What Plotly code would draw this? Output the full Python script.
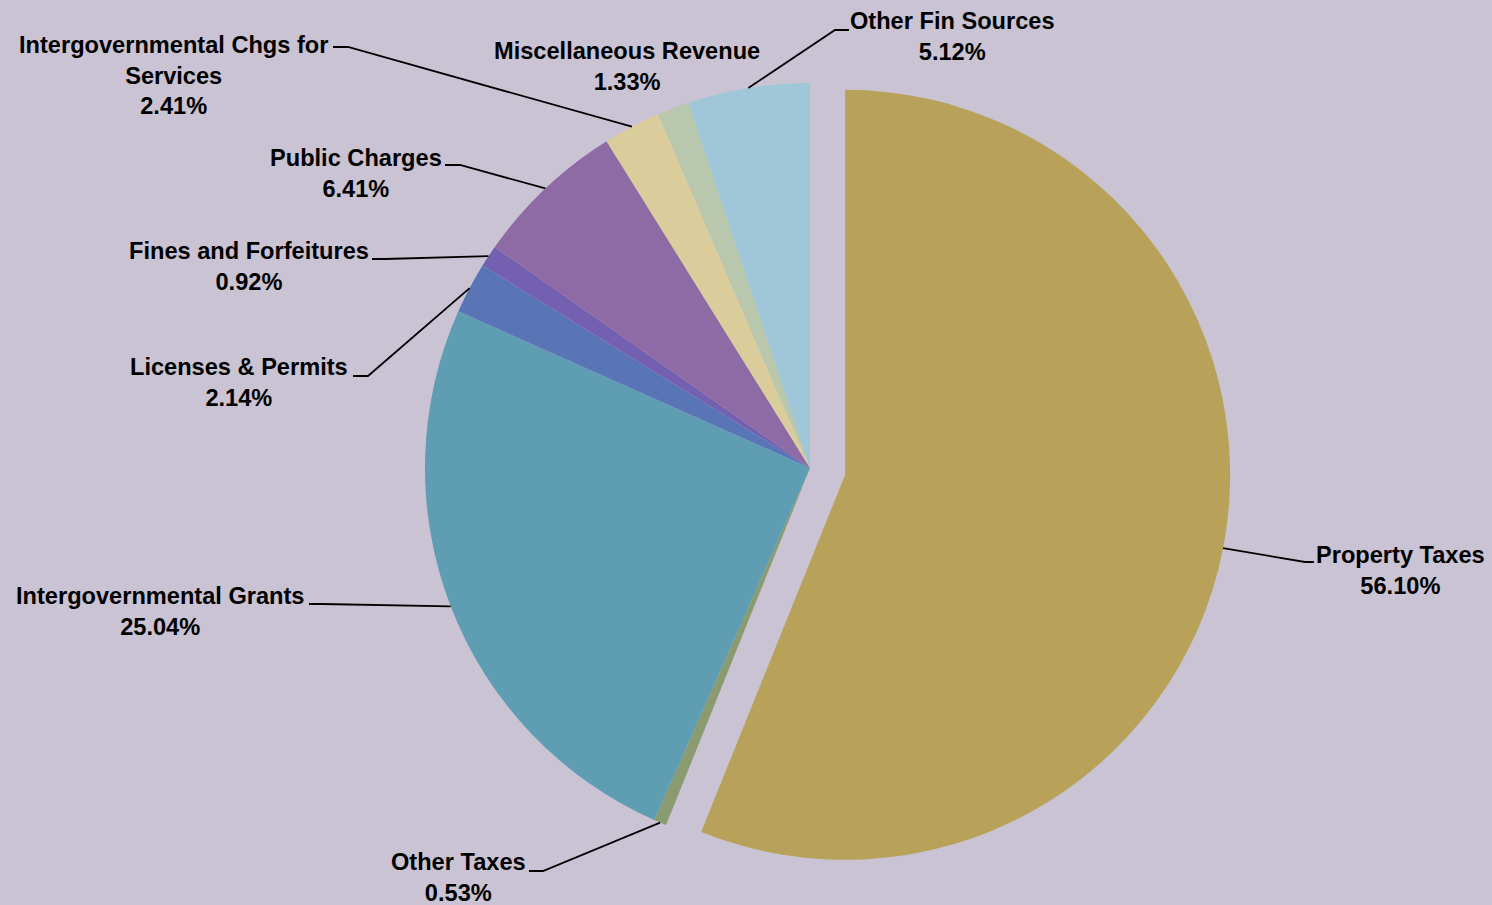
import math
import plotly.graph_objects as go

# Revenue sources, clockwise from 12 o'clock
categories = [
    "Property Taxes",
    "Other Taxes",
    "Intergovernmental Grants",
    "Licenses & Permits",
    "Fines and Forfeitures",
    "Public Charges",
    "Intergovernmental Chgs for Services",
    "Miscellaneous Revenue",
    "Other Fin Sources",
]
shares = [56.10, 0.53, 25.04, 2.14, 0.92, 6.41, 2.41, 1.33, 5.12]
label_text = [
    "Property Taxes",
    "Other Taxes",
    "Intergovernmental Grants",
    "Licenses & Permits",
    "Fines and Forfeitures",
    "Public Charges",
    "Intergovernmental Chgs for<br>Services",
    "Miscellaneous Revenue",
    "Other Fin Sources",
]
colors = ["#B8A25A", "#8B9B70", "#5E9DB2", "#5A75B6", "#7460B0",
          "#8F6BA6", "#DBCD9B", "#B9C7AD", "#A0C7D7"]
pulls = [0.093, 0, 0, 0, 0, 0, 0, 0, 0]

W, H = 1492, 905
BG = "#C9C3D3"

# pie geometry in pixels
CX, CY, R = 810.0, 468.0, 385.0
half = R * (1 + max(pulls))
dom_x = [(CX - half) / W, (CX + half) / W]
dom_y = [1 - (CY + half) / H, 1 - (CY - half) / H]

# label block centres and leader-line elbows/ends (pixels)
label_pos = {
    "Property Taxes": (1400, 570),
    "Other Taxes": (458, 877),
    "Intergovernmental Grants": (160, 611),
    "Licenses & Permits": (239, 382),
    "Fines and Forfeitures": (249, 266),
    "Public Charges": (356, 173),
    "Intergovernmental Chgs for Services": (173, 75),
    "Miscellaneous Revenue": (627, 67),
    "Other Fin Sources": (952, 36),
}
leader = {
    "Property Taxes": [(1305, 562), (1314, 562)],
    "Other Taxes": [(543, 871), (529, 871)],
    "Intergovernmental Grants": [(322, 604), (309, 604)],
    "Licenses & Permits": [(368, 376), (353, 376)],
    "Fines and Forfeitures": [(385, 259), (372, 259)],
    "Public Charges": [(460, 165), (445, 165)],
    "Intergovernmental Chgs for Services": [(348, 47), (333, 47)],
    "Other Fin Sources": [(835, 30), (849, 30)],
}


def px(x, y):
    return x / W, 1 - y / H


fig = go.Figure(go.Pie(
    labels=categories,
    values=shares,
    sort=False,
    direction="clockwise",
    rotation=0,
    pull=pulls,
    marker=dict(colors=colors, line=dict(width=0)),
    textinfo="none",
    hoverinfo="label+percent",
    showlegend=False,
    domain=dict(x=dom_x, y=dom_y),
))

total = sum(shares)
cum = 0.0
shapes, annotations = [], []
font = dict(family="Liberation Sans", size=23.6, color="#000000", weight="bold")
for name, val, txt, pull in zip(categories, shares, label_text, pulls):
    mid = (cum + val / 2) / total * 2 * math.pi
    cum += val
    sx, sy = math.sin(mid), -math.cos(mid)
    cx = CX + pull * R * sx
    cy = CY + pull * R * sy
    ex, ey = cx + R * sx, cy + R * sy
    if name in leader:
        pts = [(ex, ey)] + leader[name]
        path = "M " + " L ".join(f"{px(a, b)[0]},{px(a, b)[1]}" for a, b in pts)
        shapes.append(dict(type="path", xref="paper", yref="paper", path=path,
                           line=dict(color="#000000", width=1.8)))
    lx, ly = label_pos[name]
    annotations.append(dict(
        x=px(lx, ly)[0], y=px(lx, ly)[1], xref="paper", yref="paper",
        text=f"{txt}<br>{val:.2f}%", showarrow=False, align="center",
        xanchor="center", yanchor="middle", font=font,
    ))

fig.update_layout(
    width=W, height=H,
    margin=dict(l=0, r=0, t=0, b=0),
    paper_bgcolor=BG, plot_bgcolor=BG,
    shapes=shapes, annotations=annotations,
)

fig.write_html("out.html")
